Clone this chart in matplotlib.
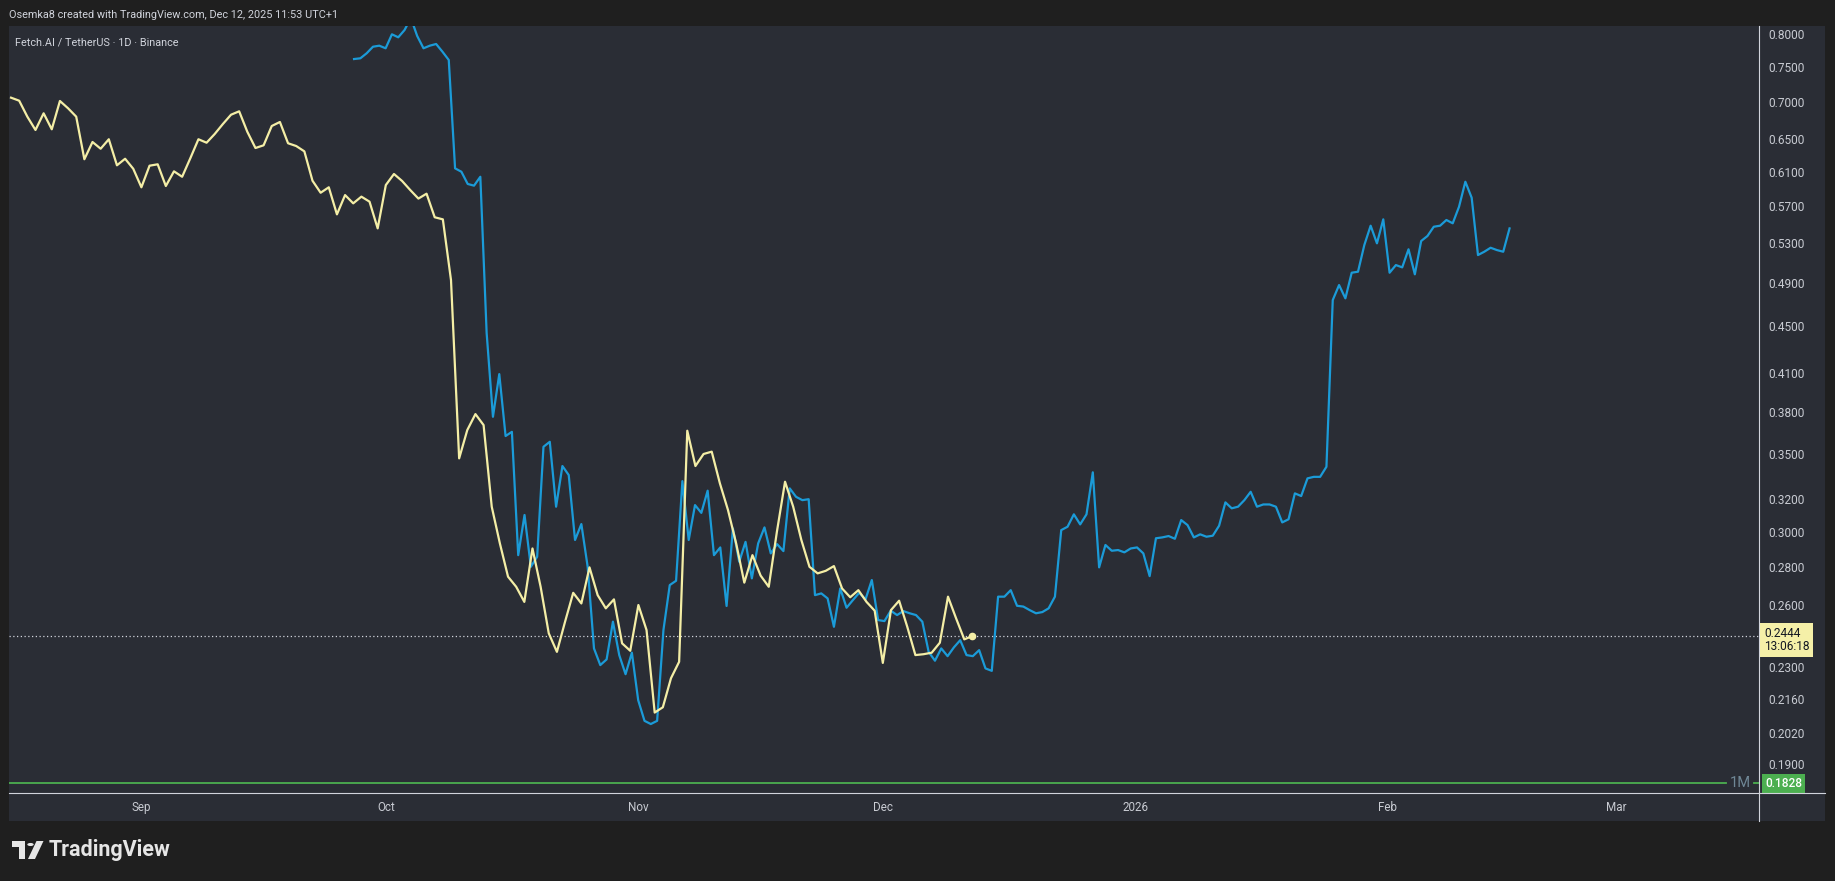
import matplotlib
matplotlib.use("Agg")
from matplotlib import pyplot as plt
from matplotlib import transforms
from matplotlib.patches import Rectangle, Polygon, Circle
from matplotlib.lines import Line2D
from matplotlib.ticker import NullLocator
import numpy as np
import pandas as pd

plt.rcParams['font.family'] = ['Roboto', 'DejaVu Sans']

# FET/USDT daily closes (yellow), Aug 16 -> Dec 12 2025
yellow_start = "2025-08-16"
yellow_prices = [
    0.7057, 0.7015, 0.6798, 0.6622, 0.6843, 0.6631, 0.7011, 0.6911, 0.6798, 0.6251, 0.6467, 0.6382,
    0.6502, 0.6177, 0.6257, 0.6135,
    0.5915, 0.6172, 0.6189, 0.5930, 0.6104, 0.6039, 0.6262, 0.6502, 0.6458, 0.6570, 0.6700, 0.6824,
    0.6870, 0.6599, 0.6391, 0.6425, 0.6674, 0.6727, 0.6451, 0.6416, 0.6349, 0.5992, 0.5852, 0.5915,
    0.5608, 0.5825, 0.5731, 0.5807, 0.5750, 0.5455,
    0.5941, 0.6072, 0.5989, 0.5883, 0.5785, 0.5841, 0.5576, 0.5553, 0.4927, 0.3468, 0.3667, 0.3784,
    0.3703, 0.3153, 0.2933, 0.2747, 0.2693, 0.2614, 0.2904, 0.2693, 0.2457, 0.2369, 0.2514, 0.2661,
    0.2606, 0.2798, 0.2649, 0.2581, 0.2627, 0.2409, 0.2374,
    0.2598, 0.2473, 0.2102, 0.2124, 0.2249, 0.2323, 0.3662, 0.3416, 0.3498, 0.3514, 0.3302, 0.3132,
    0.2933, 0.2715, 0.2866, 0.2753, 0.2693, 0.3001, 0.3312, 0.3153, 0.2953, 0.2801, 0.2765, 0.2779,
    0.2805, 0.2684, 0.2638, 0.2675, 0.2614, 0.2569,
    0.2318, 0.2572, 0.2620, 0.2489, 0.2354, 0.2358, 0.2365, 0.2412, 0.2641, 0.2530, 0.2428, 0.2444,
]

# bars pattern (blue), projected; 184 bars at 18h36m spacing
blue_start = "2025-09-27 02:24"
blue_step = "1116min"
blue_prices = [
    0.7615, 0.7626, 0.7702, 0.7802, 0.7818, 0.7778, 0.7995, 0.7948, 0.8063, 0.8256, 0.7969, 0.7778,
    0.7818, 0.7844, 0.7726, 0.7601, 0.6140, 0.6099, 0.5954, 0.5934, 0.6039, 0.4439, 0.3764, 0.4094,
    0.3624, 0.3654,
    0.2866, 0.3102, 0.2801, 0.2857, 0.3548, 0.3583, 0.3153, 0.3416, 0.3356, 0.2953, 0.3047, 0.2801,
    0.2385, 0.2308, 0.2334, 0.2514, 0.2354, 0.2267, 0.2365, 0.2154, 0.2068, 0.2055, 0.2068, 0.2473,
    0.2702, 0.2725, 0.3316, 0.2953, 0.3163, 0.3115, 0.3254, 0.2866, 0.2910, 0.2593, 0.3021, 0.2829,
    0.2942, 0.2738, 0.2933, 0.3027, 0.2876, 0.2929, 0.2889, 0.3269, 0.3215, 0.3194, 0.3200, 0.2649,
    0.2658, 0.2632, 0.2489, 0.2684, 0.2584, 0.2623, 0.2661, 0.2627, 0.2729, 0.2522, 0.2517, 0.2569,
    0.2547, 0.2567, 0.2556, 0.2547, 0.2514, 0.2369, 0.2328, 0.2385, 0.2349, 0.2390, 0.2424, 0.2354,
    0.2349, 0.2377, 0.2293, 0.2282, 0.2641, 0.2641, 0.2675, 0.2594, 0.2590, 0.2572, 0.2556, 0.2562,
    0.2581, 0.2641,
    0.3011, 0.3031, 0.3106, 0.3045, 0.3106, 0.3374, 0.2798, 0.2924, 0.2891, 0.2895, 0.2882, 0.2904,
    0.2910, 0.2876, 0.2750, 0.2963, 0.2968, 0.2976, 0.2960, 0.3071, 0.3041, 0.2968, 0.2986, 0.2972,
    0.2978, 0.3037, 0.3180, 0.3143, 0.3153, 0.3194, 0.3247, 0.3153, 0.3167, 0.3167, 0.3153, 0.3057,
    0.3076, 0.3237, 0.3220, 0.3334, 0.3344, 0.3344, 0.3411, 0.4737, 0.4879, 0.4753, 0.4999, 0.5009,
    0.5279, 0.5484, 0.5297, 0.5553, 0.4999, 0.5075, 0.5052, 0.5235, 0.4983, 0.5321, 0.5374, 0.5473,
    0.5484, 0.5546, 0.5510, 0.5693, 0.5980, 0.5795, 0.5176, 0.5210, 0.5251, 0.5227, 0.5210, 0.5455,
]

last_price = 0.2444
countdown = "13:06:18"
month_low = 0.1828

price_ticks = [0.8, 0.75, 0.7, 0.65, 0.61, 0.57, 0.53, 0.49, 0.45, 0.41, 0.38, 0.35, 0.32,
               0.30, 0.28, 0.26, 0.23, 0.216, 0.202, 0.19]
time_ticks = ["2025-09-01", "2025-10-01", "2025-11-01", "2025-12-01", "2026-01-01",
              "2026-02-01", "2026-03-01"]
time_labels = ["Sep", "Oct", "Nov", "Dec", "2026", "Feb", "Mar"]
x_range = ["2025-08-15 18:00", "2026-03-18 13:00"]
y_range = [0.1794, 0.8127]

BG = "#1f1f1f"
PANEL = "#2a2d35"
AXLINE = "#d1d4dc"
TXT = "#c8cbd2"
YELLOW = "#f4eea6"
BLUE = "#1b9bd8"
GREEN = "#4caf50"

W, H = 1835, 881
fig = plt.figure(figsize=(W / 100, H / 100), dpi=100, facecolor=BG)

def fx(px):
    return px / W

def fy(py):
    return 1 - py / H

# panel background
fig.patches.append(Rectangle((fx(9), fy(821)), fx(1825) - fx(9), fy(26) - fy(821),
                             transform=fig.transFigure, facecolor=PANEL, edgecolor="none",
                             zorder=-5))

ax = fig.add_axes([fx(9), fy(793), fx(1759) - fx(9), fy(26) - fy(793)], zorder=1)
ax.set_facecolor(PANEL)

y_dates = pd.date_range(yellow_start, periods=len(yellow_prices), freq="D")
b_dates = pd.date_range(blue_start, periods=len(blue_prices), freq=blue_step)

ax.plot(b_dates, blue_prices, color=BLUE, lw=1.6, solid_joinstyle="round", zorder=3)
ax.plot(y_dates, yellow_prices, color=YELLOW, lw=1.6, solid_joinstyle="round", zorder=4)
ax.plot([y_dates[-1]], [yellow_prices[-1]], marker="o", ms=4.5, color=YELLOW, zorder=5)

ax.axhline(last_price, color=AXLINE, lw=0.9, ls=(0, (1, 2)), zorder=2)
ax.axhline(month_low, xmin=0, xmax=0.981, color=GREEN, lw=1.3, zorder=2)
ax.axhline(month_low, xmin=0.9971, xmax=1, color=GREEN, lw=1.3, zorder=2)

ax.set_yscale("log")
ax.set_ylim(*y_range)
ax.set_xlim(pd.Timestamp(x_range[0]), pd.Timestamp(x_range[1]))

ax.yaxis.tick_right()
ax.set_yticks(price_ticks)
ax.set_yticklabels([f"{v:.4f}" for v in price_ticks])
ax.yaxis.set_minor_locator(NullLocator())
ax.set_xticks([pd.Timestamp(t) for t in time_ticks])
ax.set_xticklabels(time_labels)
ax.xaxis.set_minor_locator(NullLocator())
ax.tick_params(axis="y", length=0, pad=7, labelsize=8.6, labelcolor=TXT)
ax.tick_params(axis="x", length=0, pad=6, labelsize=8.4, labelcolor=TXT)

for s in ["top", "left"]:
    ax.spines[s].set_visible(False)
for s in ["right", "bottom"]:
    ax.spines[s].set_color(AXLINE)
    ax.spines[s].set_linewidth(0.8)

# axis lines continue across the scale areas
fig.lines.append(Line2D([fx(1759), fx(1759)], [fy(793), fy(821)], transform=fig.transFigure,
                        color=AXLINE, lw=0.8))
fig.lines.append(Line2D([fx(1759), fx(1825)], [fy(793), fy(793)], transform=fig.transFigure,
                        color=AXLINE, lw=0.8))

blend = transforms.blended_transform_factory(ax.transAxes, ax.transData)

# price tags on the scale
ax.annotate(f"{last_price:.4f}\n{countdown}", xy=(1.0, last_price), xycoords=blend,
            xytext=(5, 9), textcoords="offset pixels", ha="left", va="top",
            fontsize=8.6, color="#131722", linespacing=1.0, annotation_clip=False,
            bbox=dict(boxstyle="square,pad=0.3", fc="#f5f0a8", ec="none"), zorder=6)
ax.annotate(f"{month_low:.4f}", xy=(1.0, month_low), xycoords=blend,
            xytext=(6, 0), textcoords="offset pixels", ha="left", va="center",
            fontsize=8.6, color="white", fontweight="medium", annotation_clip=False,
            bbox=dict(boxstyle="square,pad=0.25", fc=GREEN, ec="none"), zorder=6)
ax.annotate("1M", xy=(1.0, month_low), xycoords=blend, xytext=(-8, 0),
            textcoords="offset pixels", ha="right", va="center", fontsize=10.5,
            color="#6f8796", annotation_clip=False)

# header texts
fig.text(fx(9), fy(15), "Osemka8 created with TradingView.com, Dec 12, 2025 11:53 UTC+1",
         ha="left", va="center", fontsize=7.8, color="#d1d4dc")
fig.text(fx(15), fy(42), "Fetch.AI / TetherUS · 1D · Binance",
         ha="left", va="center", fontsize=7.8, color="#d1d4dc", zorder=5)

# TradingView logo
logo = "#e6e6e6"
fig.patches.append(Polygon([(fx(12), fy(841)), (fx(25), fy(841)), (fx(25), fy(859)),
                            (fx(19), fy(859)), (fx(19), fy(847)), (fx(12), fy(847))],
                           closed=True, transform=fig.transFigure, fc=logo, ec="none"))
fig.patches.append(Circle((fx(30.5), fy(844.5)), 3.2 / W, transform=fig.transFigure, fc=logo,
                          ec="none"))
fig.patches.append(Polygon([(fx(28), fy(859)), (fx(35), fy(859)), (fx(43.5), fy(841)),
                            (fx(36.5), fy(841))],
                           closed=True, transform=fig.transFigure, fc=logo, ec="none"))
fig.text(fx(49), fy(850), "TradingView", ha="left", va="center", fontsize=15.5,
         fontweight="bold", color=logo)

fig.savefig("out.png", dpi=100, facecolor=BG)
